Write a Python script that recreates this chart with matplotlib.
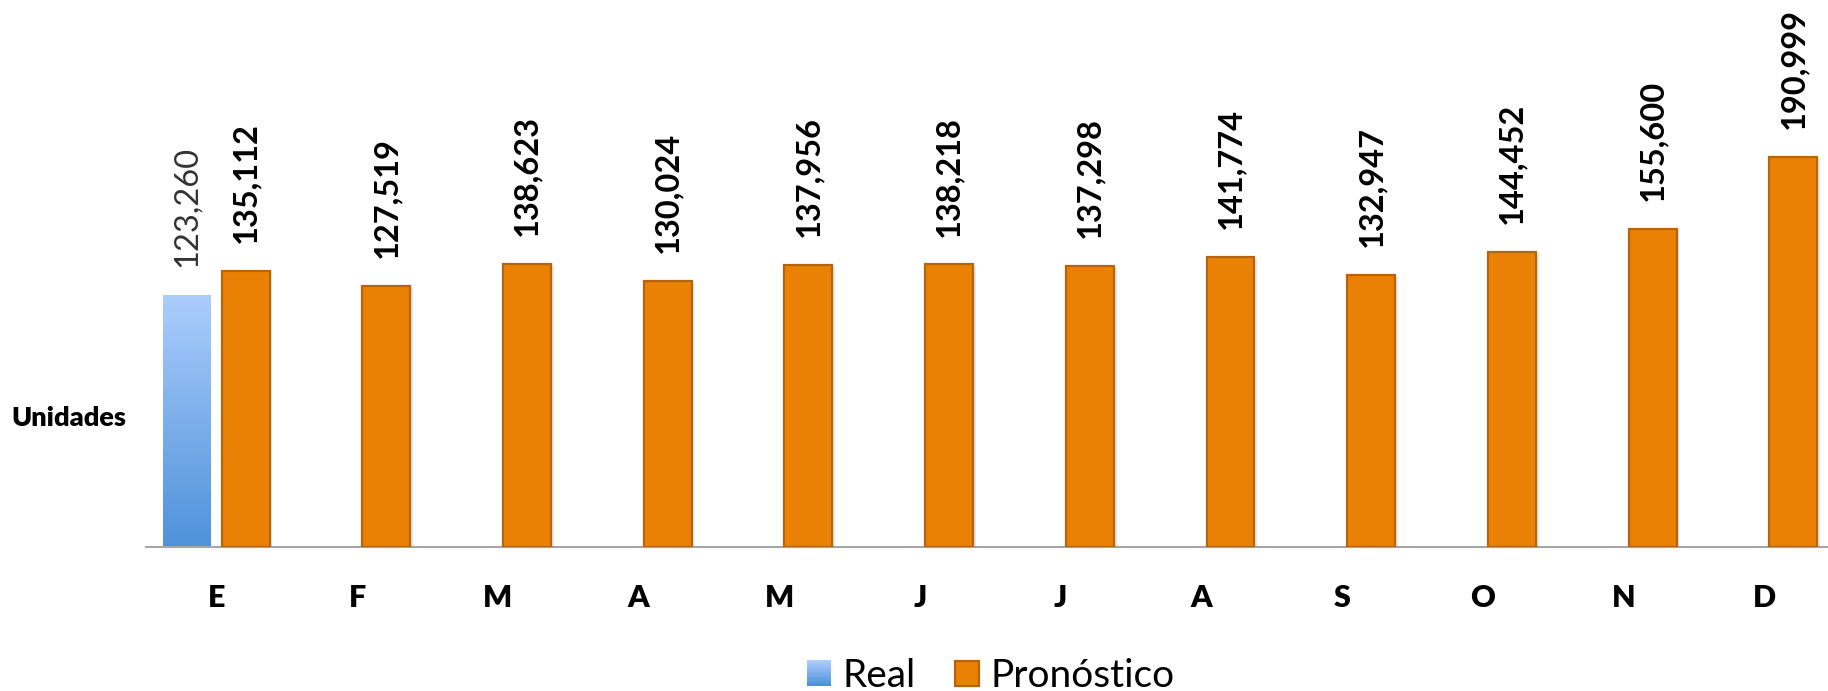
import numpy as np
import matplotlib
matplotlib.use("Agg")
import matplotlib.pyplot as plt
from matplotlib.colors import LinearSegmentedColormap, to_rgb
from matplotlib.patches import Rectangle, Patch
from matplotlib.legend_handler import HandlerBase
import matplotlib.patheffects as pe

# ---- data ----
months = ["E", "F", "M", "A", "M", "J", "J", "A", "S", "O", "N", "D"]
real = [123260, None, None, None, None, None, None, None, None, None, None, None]
pronostico = [135112, 127519, 138623, 130024, 137956, 138218, 137298,
              141774, 132947, 144452, 155600, 190999]
series_names = ["Real", "Pronóstico"]
y_label = "Unidades"

# ---- style ----
blue_top = "#ABCDFC"
blue_bottom = "#4E92DA"
orange = "#EA8004"
orange_edge = "#B7650C"
axis_gray = "#A6A6A6"
W, H = 1828, 691

plt.rcParams['font.family'] = ['Lato', 'DejaVu Sans']

fig = plt.figure(figsize=(W / 100, H / 100), dpi=100)
base_px = 546.7
left_px = 146
ax = fig.add_axes([left_px / W, (H - base_px) / H, (W - left_px) / W, base_px / H])

x = np.arange(len(months))
bw = 0.34
off = 0.208

cmap = LinearSegmentedColormap.from_list("bl", [blue_bottom, blue_top])
grad = np.linspace(0, 1, 256).reshape(-1, 1)

# Real bars (with gradient)
rx = [xi - off for xi, v in zip(x, real) if v is not None]
rv = [v for v in real if v is not None]
rbars = ax.bar(rx, rv, width=bw, color="none", edgecolor="none", zorder=2)
for b in rbars:
    bx, by = b.get_x(), b.get_y()
    w, h = b.get_width(), b.get_height()
    im = ax.imshow(grad, extent=[bx, bx + w, by, by + h], origin="lower",
                   aspect="auto", cmap=cmap, zorder=2, interpolation="bilinear")
    im.set_clip_path(b)

# Pronostico bars
pbars = ax.bar(x + off, pronostico, width=bw, color=orange, edgecolor=orange_edge,
               linewidth=1.6, zorder=3)
for b in pbars:
    b.set_path_effects([pe.SimplePatchShadow(offset=(2, -1), alpha=0.18, shadow_rgbFace="#777777"),
                        pe.Normal()])

ax.set_xlim(-0.5, -0.5 + (W - left_px) / 140.7)
ax.set_ylim(0, base_px * 489.6)

# value labels
for xi, v in zip(rx, rv):
    ax.annotate(f"{v:,}", (xi, v), xytext=(0, 20), textcoords="offset points",
                rotation=90, ha="center", va="bottom", fontsize=23.5,
                fontweight="normal", color="#333333")
for xi, v in zip(x + off, pronostico):
    ax.annotate(f"{v:,}", (xi, v), xytext=(0, 20), textcoords="offset points",
                rotation=90, ha="center", va="bottom", fontsize=23.5,
                fontweight="bold", color="black")

# axes styling
for s in ["top", "right", "left"]:
    ax.spines[s].set_visible(False)
ax.spines["bottom"].set_color(axis_gray)
ax.spines["bottom"].set_linewidth(1.5)
ax.set_yticks([])
ax.set_xticks(x)
ax.set_xticklabels(months, fontsize=22, fontweight="heavy")
ax.tick_params(axis="x", length=0, pad=27)

fig.text(11 / W, (H - 418) / H, y_label, fontsize=19.5, fontweight="heavy",
         ha="left", va="center")


# legend with gradient handle
class GradientHandler(HandlerBase):
    def create_artists(self, legend, orig_handle, xdescent, ydescent, width, height,
                       fontsize, trans):
        n = 20
        arts = []
        c0 = np.array(to_rgb(blue_bottom))
        c1 = np.array(to_rgb(blue_top))
        for i in range(n):
            t = i / (n - 1)
            r = Rectangle((-xdescent, -ydescent + height * i / n), width, height / n + 0.3,
                          facecolor=tuple(c0 + (c1 - c0) * t), edgecolor="none",
                          transform=trans)
            arts.append(r)
        return arts


h_real = Patch(facecolor=blue_bottom, label=series_names[0])
h_pron = Patch(facecolor=orange, edgecolor=orange_edge, linewidth=1.6, label=series_names[1])
leg = fig.legend([h_real, h_pron], series_names, loc="center",
                 bbox_to_anchor=(0.542, 0.022), ncol=2, frameon=False,
                 fontsize=28, handlelength=0.62, handleheight=0.62,
                 handletextpad=0.3, columnspacing=1.0, borderpad=0,
                 handler_map={h_real: GradientHandler()})

fig.savefig("out.png", dpi=100)
